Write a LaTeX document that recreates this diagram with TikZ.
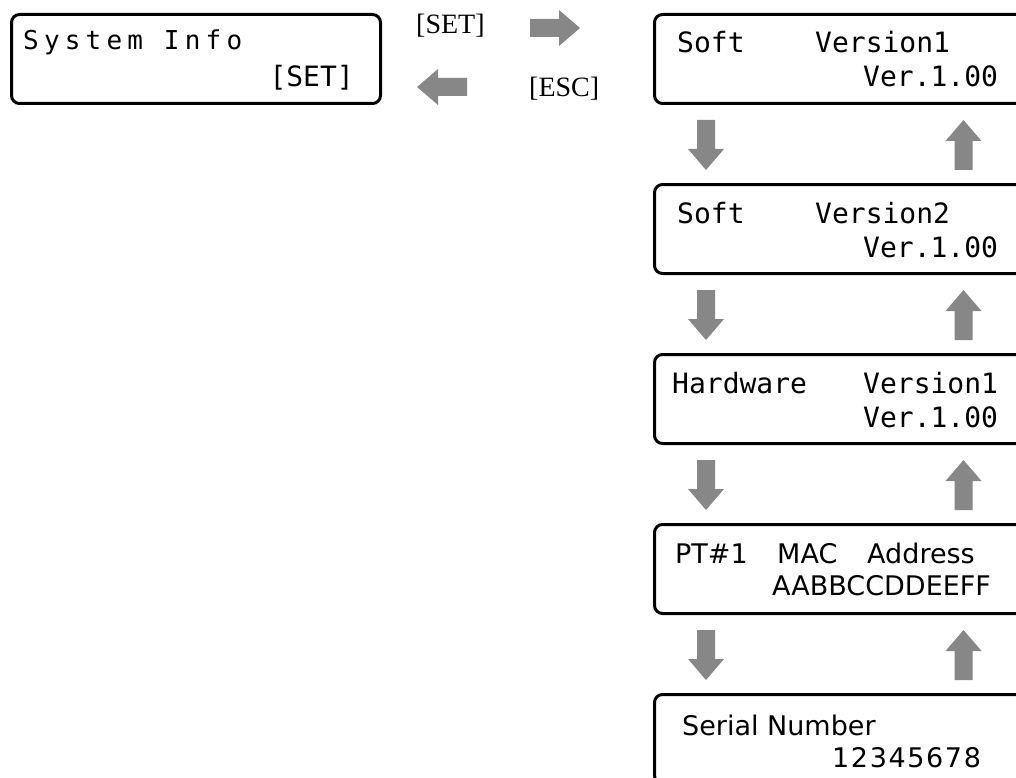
\documentclass[tikz,border=0pt]{standalone}
\usepackage{fontspec}
\setmainfont{Liberation Serif}
\newfontfamily\lcdfont{DejaVu Sans Mono}
\newfontfamily\lcdspaced{DejaVu Sans Mono}[LetterSpace=20]
\newfontfamily\gothfont{DejaVu Sans}
\newfontfamily\gothspaced{DejaVu Sans}[LetterSpace=6]
\definecolor{arrowgray}{HTML}{878787}
\tikzset{
  screen/.style={draw=black, line width=3pt, rounded corners=8pt, anchor=north west,
    minimum height=89pt, inner sep=0pt},
  lcd/.style={inner sep=0pt, anchor=base west, font=\lcdfont\fontsize{28}{32}\selectfont},
  goth/.style={inner sep=0pt, anchor=base west, font=\gothfont\fontsize{27}{31}\selectfont},
  key/.style={inner sep=0pt, anchor=base west, font=\fontsize{28}{32}\selectfont}
}
% fat arrow: tail x, tail y, angle
\newcommand{\blockarrow}[3]{%
  \fill[arrowgray, shift={(#1,#2)}, rotate=#3]
    (0,-9) -- (29,-9) -- (29,-18) -- (50,0) -- (29,18) -- (29,9) -- (0,9) -- cycle;}
\begin{document}
\begin{tikzpicture}[x=1pt,y=-1pt]
\useasboundingbox (0,0) rectangle (1016,778);
\clip (0,0) rectangle (1016,778);
% menu entry
\node[screen, minimum width=369pt] (menu) at (10,13) {};
\node[inner sep=0pt, anchor=base west, font=\lcdspaced\fontsize{26}{30}\selectfont] (menut) at (23,50) {System Info};
\node[inner sep=0pt, anchor=base east, font=\lcdfont\fontsize{28}{32}\selectfont] (menuk) at (354,87) {[SET]};
% keys
\node[key] (kset) at (416,34) {[SET]};
\node[key] (kesc) at (529,97) {[ESC]};
\blockarrow{530}{28}{0}
\blockarrow{467}{87}{180}
% screens
\node[screen, minimum width=390pt] (s1) at (653,13) {};
\node[screen, minimum width=390pt] (s2) at (653,183) {};
\node[screen, minimum width=390pt] (s3) at (653,353) {};
\node[screen, minimum width=390pt] (s4) at (653,523) {};
\node[screen, minimum width=390pt] (s5) at (653,693) {};
\node[lcd] (s1a) at (677,53) {Soft};
\node[lcd] (s1b) at (815,53) {Version1};
\node[lcd] (s1c) at (863,87) {Ver.1.00};
\node[lcd] (s2a) at (677,223) {Soft};
\node[lcd] (s2b) at (815,223) {Version2};
\node[lcd] (s2c) at (863,257) {Ver.1.00};
\node[lcd] (s3a) at (672,393) {Hardware};
\node[lcd] (s3b) at (863,393) {Version1};
\node[lcd] (s3c) at (863,427) {Ver.1.00};
\node[goth] (s4a) at (675,563) {PT\#1};
\node[goth] (s4b) at (777,563) {MAC};
\node[goth] (s4c) at (867,563) {Address};
\node[goth] (s4d) at (772,595) {AABBCCDDEEFF};
\node[goth] (s5a) at (682,735) {Serial Number};
\node[inner sep=0pt, anchor=base west, font=\gothspaced\fontsize{27}{31}\selectfont] (s5b) at (832,767) {12345678};
% scroll arrows
\foreach \t in {13,183,353,523} {
  \blockarrow{706}{\t+107}{-90}
  \blockarrow{963.5}{\t+157}{90}
}
\end{tikzpicture}
\end{document}
